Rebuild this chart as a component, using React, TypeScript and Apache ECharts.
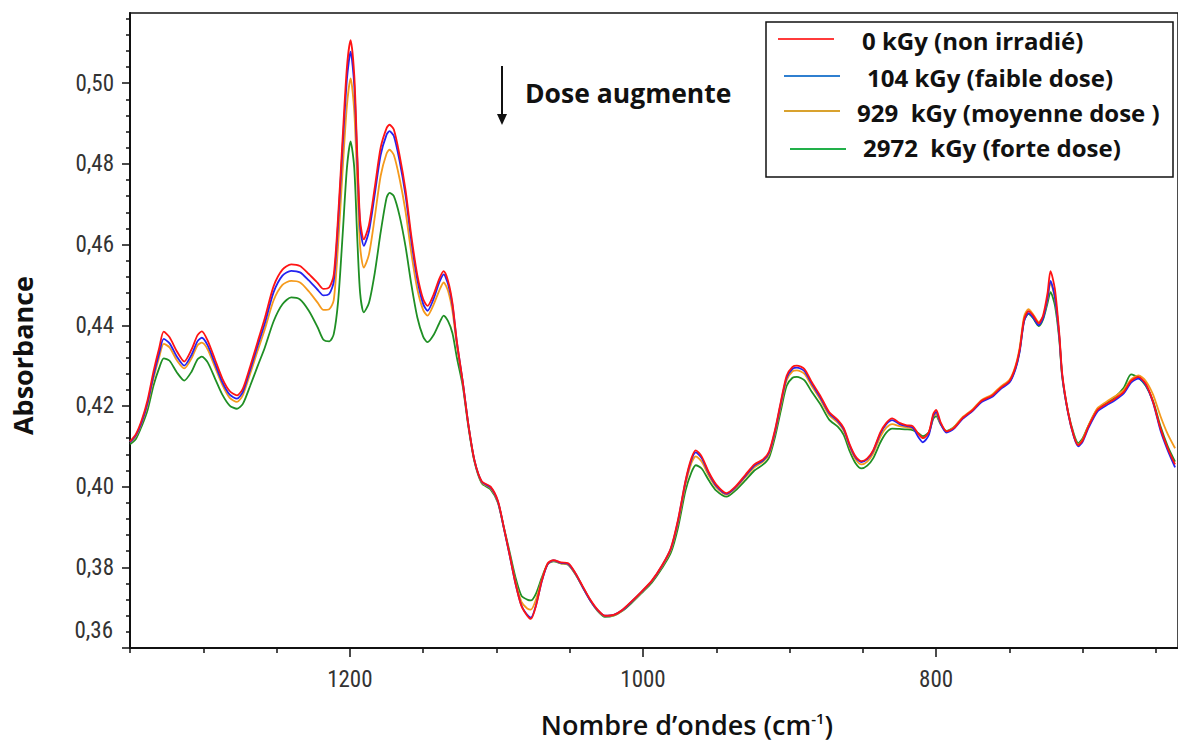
import React, { useEffect, useRef } from "react";
import * as echarts from "echarts";

// Wavenumbers (cm-1), descending
const wavenumbers = [
  1350, 1346, 1342, 1338, 1334, 1330, 1327, 1323, 1318, 1313, 1308, 1304, 1301, 1297, 1292, 1287, 1282, 1277, 1273, 1268,
  1263, 1258, 1252, 1246, 1240, 1234, 1228, 1222, 1218, 1214, 1211, 1208, 1205, 1202, 1199.5, 1197, 1195, 1193, 1190.5, 1187,
  1183, 1179, 1175, 1173, 1170, 1166, 1162, 1158, 1154, 1150, 1147, 1143, 1139, 1136, 1133, 1130, 1127, 1123, 1119, 1115,
  1110, 1104, 1099, 1095, 1091, 1087, 1083, 1079, 1076.5, 1073, 1069, 1065, 1061, 1056, 1051, 1046, 1041, 1036, 1031, 1026,
  1020, 1014, 1008, 1001, 994, 987, 981, 976, 971, 967, 964, 960, 955, 950, 943, 937, 930, 924, 918, 914,
  910, 906, 902, 898, 895, 890, 885, 879, 873, 867, 863, 859, 855, 851, 847, 843, 838, 834, 830, 825,
  820, 816, 812, 809, 805, 802, 800, 797, 793, 788, 782, 775, 769, 762, 756, 750, 746, 743, 740, 737,
  734, 730, 727, 724, 722, 719, 716, 714, 710, 706, 703, 700, 696, 690, 684, 678, 672, 667, 662, 657,
  652, 647, 642, 637,
];

const dose0 = [
  0.4112, 0.4130, 0.4165, 0.4215, 0.4285, 0.4345, 0.4384, 0.4370, 0.4335, 0.4310, 0.4340, 0.4375, 0.4385, 0.4362, 0.4315, 0.4268, 0.4237, 0.4226, 0.4243, 0.4298,
  0.4358, 0.4418, 0.4497, 0.4538, 0.4551, 0.4547, 0.4527, 0.4505, 0.4490, 0.4494, 0.4525, 0.4670, 0.4860, 0.5040, 0.5107, 0.5020, 0.4830, 0.4660, 0.4613, 0.4648,
  0.4742, 0.4840, 0.4888, 0.4897, 0.4885, 0.4820, 0.4735, 0.4620, 0.4525, 0.4465, 0.4448, 0.4475, 0.4515, 0.4534, 0.4510, 0.4455, 0.4360, 0.4260, 0.4150, 0.4065,
  0.4013, 0.4000, 0.3965, 0.3900, 0.3831, 0.3760, 0.3705, 0.3680, 0.3672, 0.3705, 0.3767, 0.3810, 0.3818, 0.3812, 0.3810, 0.3785, 0.3752, 0.3720, 0.3695, 0.3680,
  0.3682, 0.3695, 0.3715, 0.3740, 0.3767, 0.3805, 0.3848, 0.3920, 0.4015, 0.4070, 0.4090, 0.4075, 0.4035, 0.4005, 0.3984, 0.4000, 0.4030, 0.4055, 0.4068, 0.4087,
  0.4140, 0.4210, 0.4275, 0.4297, 0.4300, 0.4292, 0.4260, 0.4225, 0.4185, 0.4165, 0.4145, 0.4105, 0.4075, 0.4063, 0.4070, 0.4090, 0.4135, 0.4158, 0.4169, 0.4158,
  0.4152, 0.4150, 0.4130, 0.4120, 0.4135, 0.4180, 0.4190, 0.4160, 0.4137, 0.4145, 0.4170, 0.4190, 0.4213, 0.4225, 0.4245, 0.4262, 0.4295, 0.4340, 0.4415, 0.4435,
  0.4425, 0.4405, 0.4425, 0.4480, 0.4534, 0.4490, 0.4380, 0.4280, 0.4185, 0.4125, 0.4103, 0.4115, 0.4150, 0.4190, 0.4205, 0.4218, 0.4235, 0.4262, 0.4272, 0.4255,
  0.4210, 0.4145, 0.4095, 0.4055,
];

const dose104 = [
  0.4110, 0.4127, 0.4160, 0.4208, 0.4275, 0.4332, 0.4366, 0.4355, 0.4322, 0.4300, 0.4327, 0.4360, 0.4369, 0.4350, 0.4305, 0.4259, 0.4228, 0.4218, 0.4235, 0.4290,
  0.4348, 0.4405, 0.4482, 0.4523, 0.4535, 0.4531, 0.4511, 0.4488, 0.4474, 0.4478, 0.4508, 0.4655, 0.4840, 0.5010, 0.5078, 0.4995, 0.4815, 0.4645, 0.4597, 0.4632,
  0.4725, 0.4822, 0.4872, 0.4881, 0.4869, 0.4806, 0.4722, 0.4608, 0.4514, 0.4453, 0.4436, 0.4464, 0.4506, 0.4526, 0.4502, 0.4450, 0.4358, 0.4260, 0.4150, 0.4065,
  0.4012, 0.3998, 0.3963, 0.3898, 0.3830, 0.3760, 0.3706, 0.3682, 0.3675, 0.3706, 0.3766, 0.3808, 0.3817, 0.3811, 0.3808, 0.3784, 0.3750, 0.3718, 0.3694, 0.3680,
  0.3682, 0.3694, 0.3714, 0.3739, 0.3766, 0.3804, 0.3846, 0.3917, 0.4012, 0.4066, 0.4085, 0.4071, 0.4032, 0.4002, 0.3982, 0.3998, 0.4027, 0.4052, 0.4065, 0.4084,
  0.4136, 0.4206, 0.4270, 0.4292, 0.4295, 0.4287, 0.4256, 0.4221, 0.4182, 0.4162, 0.4142, 0.4102, 0.4072, 0.4061, 0.4068, 0.4088, 0.4132, 0.4155, 0.4165, 0.4155,
  0.4150, 0.4146, 0.4122, 0.4110, 0.4128, 0.4175, 0.4185, 0.4156, 0.4134, 0.4143, 0.4168, 0.4188, 0.4210, 0.4222, 0.4242, 0.4258, 0.4290, 0.4335, 0.4410, 0.4430,
  0.4420, 0.4400, 0.4418, 0.4468, 0.4510, 0.4470, 0.4372, 0.4275, 0.4182, 0.4123, 0.4100, 0.4112, 0.4146, 0.4186, 0.4201, 0.4214, 0.4231, 0.4258, 0.4268, 0.4252,
  0.4208, 0.4140, 0.4090, 0.4048,
];

const dose929 = [
  0.4110, 0.4125, 0.4158, 0.4203, 0.4268, 0.4322, 0.4354, 0.4345, 0.4313, 0.4293, 0.4318, 0.4350, 0.4357, 0.4340, 0.4296, 0.4252, 0.4220, 0.4210, 0.4227, 0.4280,
  0.4336, 0.4390, 0.4462, 0.4500, 0.4510, 0.4506, 0.4484, 0.4456, 0.4438, 0.4440, 0.4462, 0.4600, 0.4780, 0.4945, 0.5012, 0.4930, 0.4760, 0.4595, 0.4543, 0.4575,
  0.4668, 0.4770, 0.4825, 0.4835, 0.4822, 0.4762, 0.4682, 0.4577, 0.4490, 0.4438, 0.4424, 0.4450, 0.4486, 0.4506, 0.4485, 0.4435, 0.4350, 0.4258, 0.4150, 0.4065,
  0.4010, 0.3996, 0.3962, 0.3898, 0.3832, 0.3765, 0.3715, 0.3698, 0.3695, 0.3720, 0.3770, 0.3808, 0.3816, 0.3810, 0.3807, 0.3783, 0.3750, 0.3718, 0.3693, 0.3679,
  0.3681, 0.3693, 0.3713, 0.3738, 0.3765, 0.3802, 0.3843, 0.3912, 0.4005, 0.4058, 0.4075, 0.4062, 0.4026, 0.3998, 0.3980, 0.3996, 0.4024, 0.4048, 0.4062, 0.4080,
  0.4132, 0.4200, 0.4264, 0.4286, 0.4288, 0.4280, 0.4250, 0.4216, 0.4177, 0.4158, 0.4138, 0.4098, 0.4068, 0.4055, 0.4062, 0.4082, 0.4124, 0.4146, 0.4155, 0.4150,
  0.4147, 0.4144, 0.4130, 0.4120, 0.4134, 0.4174, 0.4180, 0.4156, 0.4137, 0.4147, 0.4172, 0.4192, 0.4215, 0.4228, 0.4248, 0.4265, 0.4298, 0.4345, 0.4422, 0.4440,
  0.4428, 0.4408, 0.4422, 0.4466, 0.4505, 0.4468, 0.4372, 0.4275, 0.4183, 0.4125, 0.4104, 0.4117, 0.4152, 0.4194, 0.4210, 0.4224, 0.4240, 0.4266, 0.4276, 0.4262,
  0.4228, 0.4175, 0.4130, 0.4095,
];

const dose2972 = [
  0.4105, 0.4118, 0.4150, 0.4190, 0.4250, 0.4295, 0.4318, 0.4312, 0.4283, 0.4263, 0.4285, 0.4315, 0.4322, 0.4308, 0.4268, 0.4228, 0.4201, 0.4193, 0.4205, 0.4250,
  0.4298, 0.4345, 0.4410, 0.4452, 0.4469, 0.4464, 0.4436, 0.4395, 0.4364, 0.4360, 0.4378, 0.4460, 0.4620, 0.4790, 0.4856, 0.4790, 0.4620, 0.4480, 0.4432, 0.4455,
  0.4530, 0.4630, 0.4715, 0.4728, 0.4720, 0.4670, 0.4595, 0.4500, 0.4420, 0.4372, 0.4358, 0.4375, 0.4405, 0.4424, 0.4410, 0.4380, 0.4320, 0.4250, 0.4145, 0.4062,
  0.4008, 0.3993, 0.3960, 0.3900, 0.3838, 0.3775, 0.3730, 0.3720, 0.3718, 0.3735, 0.3775, 0.3808, 0.3815, 0.3810, 0.3806, 0.3782, 0.3750, 0.3718, 0.3692, 0.3677,
  0.3680, 0.3692, 0.3711, 0.3736, 0.3762, 0.3798, 0.3836, 0.3900, 0.3990, 0.4035, 0.4053, 0.4045, 0.4015, 0.3990, 0.3975, 0.3990, 0.4016, 0.4040, 0.4055, 0.4072,
  0.4122, 0.4188, 0.4250, 0.4270, 0.4272, 0.4264, 0.4236, 0.4204, 0.4166, 0.4148, 0.4128, 0.4088, 0.4058, 0.4045, 0.4052, 0.4070, 0.4110, 0.4134, 0.4144, 0.4143,
  0.4142, 0.4140, 0.4132, 0.4125, 0.4135, 0.4168, 0.4175, 0.4155, 0.4138, 0.4147, 0.4170, 0.4190, 0.4212, 0.4225, 0.4244, 0.4260, 0.4292, 0.4338, 0.4412, 0.4428,
  0.4418, 0.4398, 0.4415, 0.4455, 0.4482, 0.4450, 0.4365, 0.4272, 0.4185, 0.4130, 0.4108, 0.4120, 0.4152, 0.4192, 0.4207, 0.4222, 0.4245, 0.4278, 0.4270, 0.4250,
  0.4212, 0.4150, 0.4100, 0.4062,
];

const seriesNames = [
  "0 kGy (non irradié)",
  "104 kGy (faible dose)",
  "929  kGy (moyenne dose )",
  "2972  kGy (forte dose)",
];
const xTickValues = [1200, 1000, 800];
const yTickValues = [0.36, 0.38, 0.4, 0.42, 0.44, 0.46, 0.48, 0.5];
const yLabelValues = [0.38, 0.4, 0.42, 0.44, 0.46, 0.48, 0.5];
const xMinorTicks = [1350, 1300, 1250, 1150, 1100, 1050, 950, 900, 850, 750, 700, 650];
const yMinorTicks: number[] = [];
for (let i = 0; i <= 39; i++) {
  const v = +(0.36 + i * 0.004).toFixed(3);
  if (i % 5 !== 0) yMinorTicks.push(v);
}

const lineColors = ["#ff1414", "#2424f0", "#f59a1c", "#1f8f24"];
const legendColors = ["#ff3b3b", "#2f7fd0", "#d9a22e", "#22b04a"];

const tickFont = "'Liberation Sans Narrow', 'Roboto Condensed', 'Liberation Sans', sans-serif";
const boldFont = "'Open Sans', 'Noto Sans', sans-serif";

export default function App() {
  const ref = useRef<HTMLDivElement>(null);
  useEffect(() => {
    if (!ref.current) return;
    const chart = echarts.init(ref.current, undefined, { renderer: "svg" });
    const datasets = [dose0, dose104, dose929, dose2972];
    const order = [3, 2, 1, 0];
    const series = order.map((k) => ({
      name: seriesNames[k],
      type: "line",
      data: wavenumbers.map((w, i) => [w, datasets[k][i]]),
      showSymbol: false,
      smooth: 0.25,
      lineStyle: { color: lineColors[k], width: 1.8 },
      itemStyle: { color: lineColors[k] },
      z: 2 + (3 - k),
    }));

    const legendRows = [40, 77, 112, 147];
    const legendTextX = [862, 867, 857, 863];
    const legendLineX = [[778, 834], [784, 840], [784, 840], [790, 846]];
    const legendLineY = [39, 76, 111, 149];
    const legendGraphics: any[] = [
      {
        type: "rect",
        shape: { x: 766, y: 22, width: 407, height: 155 },
        style: { fill: "#fff", stroke: "#111", lineWidth: 1.5 },
        z: 10,
      },
    ];
    seriesNames.forEach((n, k) => {
      legendGraphics.push({
        type: "line",
        shape: { x1: legendLineX[k][0], y1: legendLineY[k], x2: legendLineX[k][1], y2: legendLineY[k] },
        style: { stroke: legendColors[k], lineWidth: 2 },
        z: 11,
      });
      legendGraphics.push({
        type: "text",
        x: legendTextX[k],
        y: legendRows[k],
        style: {
          text: n,
          fill: "#111",
          font: `bold 24px ${boldFont}`,
          textVerticalAlign: "middle",
          verticalAlign: "middle",
        },
        z: 11,
      });
    });

    chart.setOption({
      animation: false,
      backgroundColor: "#ffffff",
      grid: {
        left: 130,
        right: -2,
        top: 13,
        bottom: 96,
        show: true,
        borderColor: "#111",
        borderWidth: 1.5,
      },
      xAxis: [
        {
          type: "value",
          inverse: true,
          min: 635,
          max: 1350,
          position: "bottom",
          axisLine: { show: true, lineStyle: { color: "#111", width: 2 } },
          axisTick: { show: true, customValues: xTickValues, length: 9, lineStyle: { color: "#111", width: 1.5 } },
          axisLabel: {
            customValues: xTickValues,
            margin: 20,
            fontSize: 23,
            fontFamily: tickFont,
            color: "#333",
            formatter: (v: number) => String(v),
          },
          splitLine: { show: false },
          name: "Nombre d\u2019ondes (cm{sup|-1})",
          nameLocation: "middle",
          nameGap: 62,
          nameTextStyle: {
            fontFamily: boldFont,
            fontWeight: 600,
            fontSize: 27,
            color: "#111",
            padding: [0, 0, 0, 66],
            rich: {
              sup: { fontFamily: boldFont, fontWeight: 600, fontSize: 15, color: "#111", padding: [0, 0, 13, 0] },
            },
          },
        },
        {
          type: "value",
          inverse: true,
          min: 635,
          max: 1350,
          position: "bottom",
          axisLine: { show: false },
          axisTick: { show: true, customValues: xMinorTicks, length: 5, lineStyle: { color: "#111", width: 1.5 } },
          axisLabel: { show: false },
          splitLine: { show: false },
        },
      ],
      yAxis: [
        {
          type: "value",
          min: 0.36,
          max: 0.5174,
          position: "left",
          axisLine: { show: true, lineStyle: { color: "#111", width: 2 } },
          axisTick: { show: true, customValues: yTickValues, length: 8, lineStyle: { color: "#111", width: 1.5 } },
          axisLabel: {
            customValues: yLabelValues,
            margin: 16,
            fontSize: 23,
            fontFamily: tickFont,
            color: "#333",
            formatter: (v: number) => v.toFixed(2).replace(".", ","),
          },
          splitLine: { show: false },
          name: "Absorbance",
          nameLocation: "middle",
          nameRotate: 90,
          nameGap: 94,
          nameTextStyle: {
            fontFamily: boldFont,
            fontWeight: "bold",
            fontSize: 27,
            color: "#111",
            padding: [0, 50, 0, 0],
          },
        },
        {
          type: "value",
          min: 0.36,
          max: 0.5174,
          position: "left",
          axisLine: { show: false },
          axisTick: { show: true, customValues: yMinorTicks, length: 4, lineStyle: { color: "#111", width: 1.5 } },
          axisLabel: { show: false },
          splitLine: { show: false },
        },
      ],
      series,
      graphic: [
        {
          type: "text",
          x: 113,
          y: 630,
          style: {
            text: "0,36",
            fill: "#333",
            font: `23px ${tickFont}`,
            textAlign: "right",
            align: "right",
            textVerticalAlign: "middle",
            verticalAlign: "middle",
          },
        },
        {
          type: "line",
          shape: { x1: 502, y1: 66, x2: 502, y2: 118 },
          style: { stroke: "#111", lineWidth: 2 },
        },
        {
          type: "polygon",
          shape: { points: [[497, 114], [507, 114], [502, 125]] },
          style: { fill: "#111" },
        },
        {
          type: "text",
          x: 525,
          y: 93,
          style: {
            text: "Dose augmente",
            fill: "#111",
            font: `bold 26.5px ${boldFont}`,
            textVerticalAlign: "middle",
            verticalAlign: "middle",
          },
        },
        ...legendGraphics,
      ],
    });
    return () => chart.dispose();
  }, []);
  return (
    <div
      ref={ref}
      style={{ position: "fixed", left: 0, top: 0, width: 1178, height: 744, background: "#fff" }}
    />
  );
}
